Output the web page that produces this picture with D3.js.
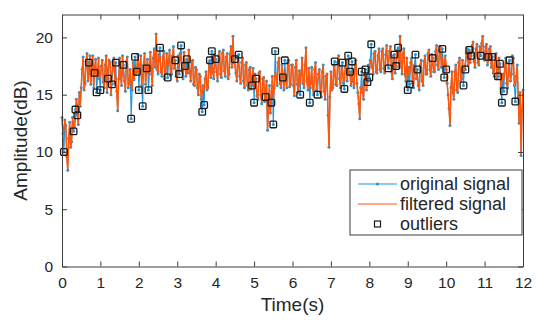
<!DOCTYPE html>
<html>
<head>
<meta charset="utf-8">
<script src="https://cdn.jsdelivr.net/npm/d3@7"></script>
<style>
  body { margin: 0; background: #fff; }
  text { font-family: "Liberation Sans", Arial, sans-serif; fill: #262626; }
</style>
</head>
<body>
<svg id="chart"></svg>
<script>
// Sampling
const t0 = 0, dt = 0.025;

// Original signal (dB), one value every 0.025 s (one row = 0.5 s)
const original = [
  13.0, 11.6, 10.0, 12.8, 12.3, 9.6, 8.4, 11.2, 12.6, 10.4, 10.9, 13.0, 11.8, 12.2, 13.7, 14.6, 13.2, 12.4, 15.2, 14.0,
  15.6, 17.2, 18.3, 15.4, 16.0, 17.9, 18.6, 16.2, 17.8, 18.4, 15.9, 17.6, 18.4, 15.6, 16.9, 18.1, 15.2, 16.6, 18.2, 16.4,
  15.4, 17.5, 18.0, 16.1, 15.6, 17.6, 18.4, 15.2, 16.4, 18.0, 17.8, 15.0, 15.9, 17.4, 18.2, 16.0, 17.8, 15.3, 13.6, 16.4,
  18.2, 16.6, 15.8, 18.4, 17.6, 16.2, 15.3, 17.9, 18.3, 15.6, 16.0, 17.2, 12.9, 15.4, 17.8, 16.3, 18.3, 16.8, 17.0, 18.5,
  15.4, 17.0, 18.4, 15.8, 14.0, 17.6, 18.6, 15.9, 17.3, 18.1, 15.4, 16.8, 18.7, 17.1, 15.8, 18.2, 19.0, 17.4, 20.3, 17.2,
  16.8, 18.5, 19.1, 17.0, 16.6, 18.3, 18.8, 16.4, 16.9, 18.6, 16.5, 17.8, 18.9, 16.7, 16.8, 18.4, 19.2, 17.3, 18.0, 16.6,
  16.2, 18.4, 16.8, 18.6, 19.3, 17.2, 16.4, 18.7, 17.5, 16.6, 18.1, 16.9, 18.9, 17.0, 16.2, 17.8, 18.0, 15.9, 15.8, 17.4,
  17.2, 15.6, 15.0, 16.8, 16.6, 14.6, 13.5, 15.8, 14.1, 16.4, 17.0, 15.4, 15.6, 17.8, 18.0, 16.5, 18.8, 17.0, 16.4, 18.5,
  18.1, 17.0, 16.2, 18.4, 18.8, 16.8, 16.5, 18.6, 18.9, 17.1, 16.6, 18.3, 18.6, 16.4, 16.8, 18.5, 19.2, 17.4, 20.1, 17.8,
  18.1, 16.9, 16.2, 18.3, 18.5, 16.6, 16.0, 17.8, 18.2, 16.2, 15.6, 17.6, 17.8, 15.8, 15.4, 17.2, 17.4, 15.5, 15.8, 17.3,
  14.3, 16.8, 16.4, 14.9, 14.6, 16.9, 17.0, 15.0, 14.2, 16.4, 16.5, 14.4, 14.8, 16.2, 11.9, 13.8, 15.8, 13.4, 14.3, 16.6,
  12.4, 15.6, 18.8, 16.6, 15.8, 17.8, 18.2, 16.0, 15.6, 17.6, 16.5, 15.4, 18.0, 16.3, 15.6, 17.8, 18.0, 15.7, 15.9, 17.6,
  17.6, 15.8, 14.9, 17.4, 18.0, 15.9, 15.2, 17.1, 15.0, 16.8, 18.2, 16.0, 15.6, 17.6, 19.1, 16.2, 15.4, 17.3, 14.3, 16.0,
  17.4, 15.6, 15.0, 17.2, 17.8, 15.4, 15.0, 16.8, 17.2, 15.2, 14.8, 17.0, 17.6, 15.3, 14.6, 16.6, 16.8, 13.2, 10.4, 14.8,
  17.0, 15.4, 15.6, 17.6, 17.9, 15.9, 15.8, 17.8, 18.4, 16.4, 15.6, 17.5, 17.8, 16.0, 15.5, 17.4, 18.0, 16.2, 18.4, 16.8,
  17.0, 15.8, 17.9, 16.2, 15.6, 17.6, 18.0, 16.0, 15.2, 14.2, 12.9, 15.6, 17.0, 15.2, 14.6, 16.8, 17.2, 15.4, 16.1, 17.6,
  16.5, 18.0, 19.4, 17.4, 16.8, 18.6, 18.8, 17.0, 16.9, 18.4, 19.0, 17.2, 17.0, 18.8, 19.0, 17.3, 16.9, 18.5, 19.3, 17.6,
  17.3, 18.8, 19.2, 17.0, 16.4, 18.4, 18.5, 16.9, 17.5, 18.9, 19.1, 17.4, 20.1, 17.8, 16.8, 18.6, 19.0, 16.8, 16.2, 18.2,
  15.4, 17.4, 15.9, 17.8, 18.2, 16.0, 15.6, 17.6, 18.5, 16.4, 17.2, 15.8, 15.4, 17.6, 18.0, 16.2, 15.8, 17.9, 18.4, 16.8,
  16.8, 18.6, 18.9, 17.2, 16.6, 18.5, 18.2, 17.0, 17.0, 18.8, 19.3, 17.6, 17.2, 18.9, 19.2, 17.4, 19.0, 17.6, 16.5, 18.4,
  17.2, 16.0, 15.0, 13.8, 12.3, 15.6, 17.0, 15.2, 14.6, 17.0, 17.6, 15.4, 15.2, 17.8, 18.2, 16.2, 16.4, 18.0, 15.8, 17.4,
  17.2, 18.6, 19.0, 17.6, 18.9, 17.8, 18.4, 19.3, 19.6, 17.9, 17.4, 19.0, 19.4, 17.8, 17.6, 19.2, 18.4, 19.5, 20.1, 18.2,
  18.0, 19.2, 19.4, 17.6, 18.3, 19.0, 19.2, 17.4, 18.3, 16.9, 16.6, 18.4, 18.6, 16.4, 16.6, 18.2, 17.7, 15.6, 14.3, 16.8,
  15.3, 17.4, 18.2, 16.0, 15.6, 17.8, 18.0, 16.2, 16.8, 18.4, 18.2, 15.8, 14.4, 16.6, 17.6, 14.8, 12.5, 15.2, 9.7, 13.6,
  15.4
];

// Samples flagged as outliers (index into original)
const outlierIdx = [
  2, 12, 14, 16, 28, 34, 36, 40, 48, 52, 56, 64, 72, 76, 78,
  80, 84, 88, 90, 102, 110, 118, 122, 124, 128, 130, 146, 148, 154, 156,
  160, 180, 184, 198, 200, 202, 212, 218, 220, 222, 230, 232, 248, 258, 266,
  284, 292, 294, 298, 300, 302, 312, 316, 318, 320, 322, 340, 346, 348, 350,
  360, 362, 368, 370, 386, 396, 398, 400, 418, 420, 424, 426, 436, 444, 448,
  454, 456, 458, 460, 466, 472
];

// Filtered signal value used in place of each outlier
const filteredFix = [
  12.0, 12.4, 13.0, 14.0, 16.8, 17.5, 16.6, 16.8, 17.3, 17.0, 16.5, 16.8, 16.0, 17.0, 17.5,
  16.8, 16.5, 16.8, 16.9, 18.4, 17.5, 17.4, 17.6, 18.0, 17.8, 17.4, 15.2, 15.4, 17.2, 17.8,
  17.6, 17.5, 17.6, 16.4, 15.4, 15.8, 15.5, 14.8, 14.6, 17.0, 16.9, 17.0, 16.0, 15.6, 16.0,
  16.8, 17.0, 16.4, 17.4, 16.6, 17.0, 15.8, 16.4, 16.8, 17.2, 18.0, 18.0, 17.9, 18.2, 18.4,
  16.6, 16.8, 17.4, 16.6, 17.6, 18.2, 17.4, 17.6, 17.0, 17.8, 18.3, 18.6, 18.8, 18.0, 18.0,
  17.2, 17.0, 16.2, 16.4, 17.2, 15.8
];

const xTicks = [0, 1, 2, 3, 4, 5, 6, 7, 8, 9, 10, 11, 12];
const yTicks = [0, 5, 10, 15, 20];
const legendLabels = ["original signal", "filtered signal", "outliers"];

const W = 550, H = 323;
const mLeft = 62, mRight = 523, mTop = 14.5, mBottom = 266.5;
const blue = "#1f96db", orange = "#ff560a", axisColor = "#3c3c3c";

const svg = d3.select("#chart").attr("width", W).attr("height", H);

const x = d3.scaleLinear().domain([0, 12]).range([mLeft, mRight]);
const y = d3.scaleLinear().domain([0, 22]).range([mBottom, mTop]);

const origPts = original.map((v, i) => ({ t: t0 + i * dt, v }));
const filtered = original.slice();
outlierIdx.forEach((k, j) => { filtered[k] = filteredFix[j]; });
const filtPts = filtered.map((v, i) => ({ t: t0 + i * dt, v }));
const outPts = outlierIdx.map(k => origPts[k]);

const line = d3.line().x(d => x(d.t)).y(d => y(d.v));

// Plot content
const plot = svg.append("g");
plot.append("path").datum(origPts)
  .attr("d", line).attr("fill", "none")
  .attr("stroke", blue).attr("stroke-width", 1.1);
plot.selectAll("circle.orig").data(origPts).enter()
  .append("circle").attr("class", "orig")
  .attr("cx", d => x(d.t)).attr("cy", d => y(d.v))
  .attr("r", 1.5).attr("fill", blue);
plot.append("path").datum(filtPts)
  .attr("d", line).attr("fill", "none")
  .attr("stroke", orange).attr("stroke-width", 1.5);
plot.selectAll("rect.out").data(outPts).enter()
  .append("rect").attr("class", "out")
  .attr("x", d => x(d.t) - 3.3).attr("y", d => y(d.v) - 3.3)
  .attr("width", 6.6).attr("height", 6.6).attr("rx", 1)
  .attr("fill", "none").attr("stroke", "#1a1a1a").attr("stroke-width", 1.3);

// Axes (ticks inward, box on)
function styleAxis(g) {
  g.selectAll(".domain").attr("stroke", axisColor);
  g.selectAll(".tick line").attr("stroke", axisColor);
  g.selectAll("text").attr("font-size", 15.5)
    .attr("font-family", '"Liberation Sans", Arial, sans-serif').attr("fill", "#262626");
}
svg.append("g").attr("transform", `translate(0,${mBottom})`)
  .call(d3.axisBottom(x).tickValues(xTicks).tickSizeInner(-5).tickSizeOuter(0).tickPadding(10))
  .call(styleAxis);
svg.append("g").attr("transform", `translate(0,${mTop})`)
  .call(d3.axisTop(x).tickValues(xTicks).tickSizeInner(-5).tickSizeOuter(0).tickFormat(""))
  .call(styleAxis);
svg.append("g").attr("transform", `translate(${mLeft},0)`)
  .call(d3.axisLeft(y).tickValues(yTicks).tickSizeInner(-5).tickSizeOuter(0).tickPadding(9))
  .call(styleAxis);
svg.append("g").attr("transform", `translate(${mRight},0)`)
  .call(d3.axisRight(y).tickValues(yTicks).tickSizeInner(-5).tickSizeOuter(0).tickFormat(""))
  .call(styleAxis);

// Axis labels
svg.append("text")
  .attr("x", (mLeft + mRight) / 2).attr("y", 311)
  .attr("text-anchor", "middle").attr("font-size", 19)
  .text("Time(s)");
svg.append("text")
  .attr("transform", `translate(27,${(mTop + mBottom) / 2}) rotate(-90)`)
  .attr("text-anchor", "middle").attr("font-size", 19)
  .text("Amplitude(dB)");

// Legend
const lg = svg.append("g").attr("transform", "translate(350,170)");
lg.append("rect").attr("width", 172).attr("height", 65)
  .attr("fill", "#fff").attr("stroke", axisColor).attr("stroke-width", 1);
const rows = lg.selectAll("g.row").data(legendLabels).enter()
  .append("g").attr("class", "row")
  .attr("transform", (d, i) => `translate(0,${14 + i * 20})`);
rows.filter((d, i) => i < 2).append("line")
  .attr("x1", 8).attr("x2", 47).attr("y1", 0).attr("y2", 0)
  .attr("stroke", (d, i) => i === 0 ? blue : orange).attr("stroke-width", 1.2);
rows.filter((d, i) => i === 0).append("circle")
  .attr("cx", 27.5).attr("cy", 0).attr("r", 1.6).attr("fill", blue);
rows.filter((d, i) => i === 2).append("rect")
  .attr("x", 24.5).attr("y", -3).attr("width", 6).attr("height", 6)
  .attr("fill", "none").attr("stroke", "#1a1a1a").attr("stroke-width", 1.2);
rows.append("text").attr("x", 50).attr("y", 6)
  .attr("font-size", 18).text(d => d);
</script>
</body>
</html>
